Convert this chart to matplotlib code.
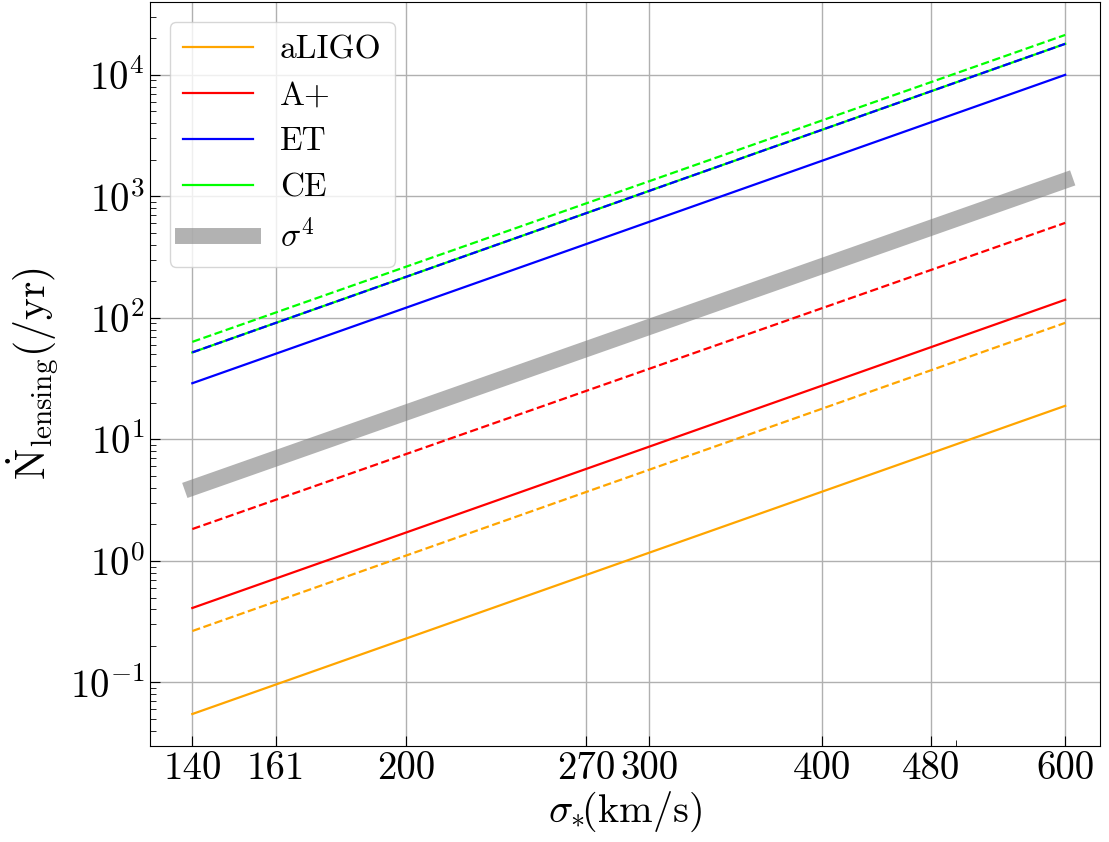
import numpy as np
import matplotlib
matplotlib.use("Agg")
import matplotlib.pyplot as plt
from matplotlib.ticker import NullFormatter, LogLocator

plt.rcParams['font.family'] = 'serif'
plt.rcParams['font.serif'] = ['cmr10']
plt.rcParams['mathtext.fontset'] = 'cm'
plt.rcParams['axes.formatter.use_mathtext'] = True

# velocity dispersion endpoints (km/s)
sigma = [140, 600]

aligo_solid = [0.055, 18.9]
aligo_dashed = [0.265, 91]
aplus_solid = [0.41, 141]
aplus_dashed = [1.83, 605]
et_solid = [29, 10000]
et_dashed = [52, 18000]
ce_solid = [52, 18000]
ce_dashed = [63.5, 21300]
sigma4_ref = [4.0, 1350]

xticks = [140, 161, 200, 270, 300, 400, 480, 600]

fig, ax = plt.subplots(figsize=(11.09, 8.42), dpi=100)
fig.subplots_adjust(left=0.135, right=0.992, top=0.998, bottom=0.114)

ax.plot(sigma, aligo_solid, color='orange', lw=1.6, label='aLIGO')
ax.plot(sigma, aplus_solid, color='red', lw=1.6, label='A+')
ax.plot(sigma, et_solid, color='blue', lw=1.6, label='ET')
ax.plot(sigma, ce_solid, color='lime', lw=1.6, label='CE')
ax.plot(sigma, sigma4_ref, color='gray', alpha=0.6, lw=11.5, label=r'$\sigma^4$')

ax.plot(sigma, aligo_dashed, color='orange', lw=1.6, ls='--')
ax.plot(sigma, aplus_dashed, color='red', lw=1.6, ls='--')
ax.plot(sigma, et_dashed, color='blue', lw=1.6, ls='--')
ax.plot(sigma, ce_dashed, color='lime', lw=1.6, ls='--')

ax.set_xscale('log')
ax.set_yscale('log')
ax.set_xlim(130.4, 636)
ax.set_ylim(0.030, 4.0e4)

ax.set_xticks(xticks)
ax.set_xticklabels([str(t) for t in xticks])
ax.xaxis.set_minor_locator(LogLocator(subs='auto'))
ax.xaxis.set_minor_formatter(NullFormatter())

ax.tick_params(which='both', direction='in', labelsize=28)
ax.tick_params(which='major', length=7)
ax.tick_params(which='minor', length=4)
ax.grid(True, which='major', lw=1)

ax.set_xlabel(r'$\sigma_{*}\!({\rm km/s})$', fontsize=29, labelpad=2)
ax.set_ylabel(r'$\dot{\rm N}_{\rm lensing}(/{\rm yr})$', fontsize=30, labelpad=6)

ax.legend(loc='upper left', fontsize=24, handlelength=2.1,
          borderaxespad=0.6)

fig.savefig('out.png', dpi=100)
